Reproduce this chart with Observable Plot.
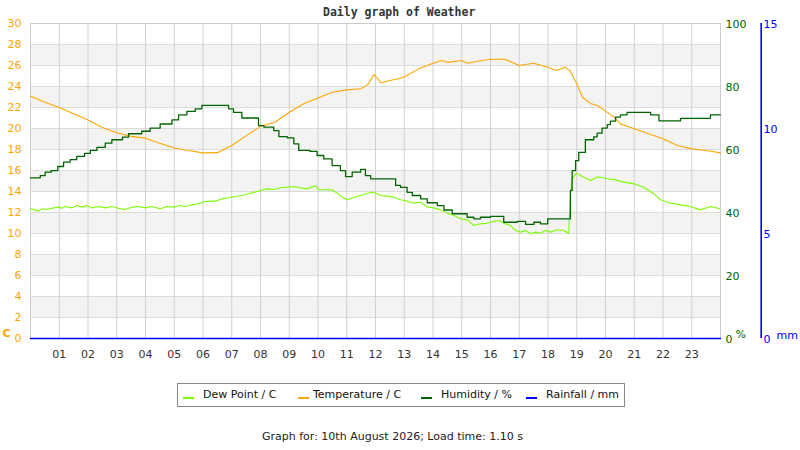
<!DOCTYPE html>
<html>
<head>
<meta charset="utf-8">
<script src="https://cdn.jsdelivr.net/npm/d3@7"></script>
<script src="https://cdn.jsdelivr.net/npm/@observablehq/plot@0.6"></script>
<style>
  body { margin: 0; background: #fff; }
  #wrap { position: relative; width: 800px; height: 450px; overflow: hidden; font-family: "DejaVu Sans", sans-serif; }
  #chart svg { display: block; }
  #title { position: absolute; left: 323px; top: 5px; font: bold 11.5px "DejaVu Sans Mono", monospace; color: #333; white-space: nowrap; }
  #legend { position: absolute; left: 177px; top: 383px; width: 448px; height: 24px; box-sizing: border-box; border: 1px solid #888; font-size: 11px; color: #111; }
  #legend .sw { position: absolute; top: 13px; width: 11px; height: 2px; }
  #legend .lb { position: absolute; top: 4px; white-space: nowrap; }
  #footer { position: absolute; left: 262px; top: 430px; font-size: 11px; color: #222; white-space: nowrap; }
</style>
</head>
<body>
<div id="wrap">
  <div id="chart"></div>
  <div id="title"></div>
  <div id="legend"></div>
  <div id="footer"></div>
</div>
<script>
const titleText = "Daily graph of Weather";
const footerText = "Graph for: 10th August 2026; Load time: 1.10 s";

const hourTicks = [1,2,3,4,5,6,7,8,9,10,11,12,13,14,15,16,17,18,19,20,21,22,23];
const hourLabels = ["01","02","03","04","05","06","07","08","09","10","11","12","13","14","15","16","17","18","19","20","21","22","23"];
const tempTicks = [0,2,4,6,8,10,12,14,16,18,20,22,24,26,28,30];
const bandStarts = [2,6,10,14,18,22,26];
const humTicks = [0,20,40,60,80,100];
const rainTicks = [0,5,10,15];

const seriesNames = ["Dew Point / C","Temperature / C","Humidity / %","Rainfall / mm"];
const seriesColors = ["#7CFC00","#FFA500","#006400","#0000FF"];

const tempHours = [
  0,0.5,1,1.5,2,2.5,3,3.5,4,4.5,
  5,5.5,6,6.5,7,7.5,8,8.5,9,9.5,
  10,10.5,11,11.5,11.75,11.95,12.2,12.5,12.8,13,
  13.5,14,14.3,14.5,15,15.2,15.5,16,16.5,17,
  17.5,18,18.3,18.6,18.78,19,19.2,19.5,19.72,20,
  20.3,20.52,21,21.5,22,22.5,23,23.5,24];
const tempValues = [
  23.1,22.5,22.0,21.4,20.8,20.1,19.6,19.25,19.08,18.6,
  18.15,17.9,17.68,17.7,18.38,19.3,20.2,20.6,21.55,22.35,
  22.9,23.46,23.68,23.78,24.25,25.14,24.35,24.57,24.73,24.9,
  25.68,26.22,26.48,26.3,26.48,26.22,26.38,26.6,26.6,26.0,
  26.22,25.84,25.52,25.84,25.46,24.25,22.98,22.35,22.19,21.65,
  21.08,20.44,19.97,19.49,19.02,18.38,18.06,17.9,17.68];

const dewHours = [
  0,0.16,0.28,0.39,0.57,0.74,0.97,1.09,1.21,1.44,
  1.61,1.79,1.96,2.13,2.37,2.6,2.83,3.06,3.29,3.52,
  3.76,3.99,4.22,4.51,4.74,4.97,5.21,5.38,5.61,5.84,
  5.96,6.02,6.42,6.66,6.89,7.12,7.35,7.58,7.81,8.0,
  8.23,8.46,8.7,8.93,9.16,9.39,9.62,9.91,10.03,10.32,
  10.49,10.67,10.84,11.01,11.25,11.48,11.71,11.94,12.17,12.41,
  12.64,12.87,13.1,13.33,13.57,13.8,14.03,14.26,14.49,14.73,
  14.96,15.19,15.42,15.65,15.88,16.11,16.32,16.46,16.7,16.87,
  17.04,17.22,17.39,17.57,17.74,17.91,18.09,18.32,18.55,18.72,
  18.78,18.84,18.99,19.19,19.48,19.71,19.88,20.06,20.35,20.64,
  20.99,21.33,21.68,21.91,22.26,22.61,22.96,23.3,23.65,23.98];
const dewValues = [
  12.35,12.25,12.13,12.35,12.29,12.41,12.51,12.41,12.57,12.44,
  12.67,12.51,12.67,12.44,12.57,12.44,12.57,12.41,12.29,12.51,
  12.57,12.44,12.57,12.35,12.57,12.51,12.67,12.57,12.73,12.83,
  12.92,13.05,13.08,13.3,13.4,13.52,13.62,13.78,13.94,14.1,
  14.25,14.19,14.35,14.41,14.48,14.35,14.25,14.57,14.16,14.16,
  14.16,13.84,13.46,13.21,13.46,13.62,13.84,13.94,13.62,13.56,
  13.46,13.21,13.08,12.89,12.98,12.51,12.44,12.25,11.94,11.71,
  11.4,11.3,10.76,10.92,10.98,11.17,11.24,10.98,10.76,10.29,
  10.13,10.29,9.97,10.13,10.03,10.29,10.13,10.35,10.29,10.03,
  13.78,15.21,15.75,15.43,15.05,15.37,15.33,15.21,15.11,14.89,
  14.73,14.41,13.78,13.21,12.89,12.73,12.57,12.25,12.57,12.35];

const humHours = [
  0,0.34,0.51,0.72,0.95,1.15,1.38,1.61,1.88,2.08,
  2.31,2.6,2.83,3.2,3.41,3.87,4.16,4.51,4.92,5.15,
  5.44,5.73,5.96,6.89,7.06,7.35,7.93,8.12,8.46,8.64,
  8.93,9.16,9.33,9.72,9.97,10.2,10.49,10.78,10.96,11.19,
  11.48,11.65,11.83,12.7,12.87,13.1,13.28,13.57,13.8,14.15,
  14.38,14.67,15.19,15.42,15.65,16.0,16.46,16.93,17.22,17.51,
  17.74,17.99,18.75,18.78,18.84,18.96,19.07,19.3,19.59,19.71,
  19.88,20.06,20.17,20.35,20.52,20.75,21.57,21.86,22.61,23.65,
  24];
const humValues = [
  51.0,51.7,52.8,53.3,54.6,56.0,56.8,57.8,58.8,59.7,
  60.7,62.0,63.1,63.9,65.0,65.8,66.8,68.1,69.4,71.0,
  72.1,72.9,74.0,72.9,71.8,70.0,67.6,67.1,66.0,64.1,
  63.7,61.8,59.7,59.4,58.1,57.0,54.9,53.3,51.4,52.8,
  53.7,51.7,50.7,48.6,48.0,46.4,45.4,44.3,43.1,42.2,
  40.8,39.6,38.5,38.0,38.5,38.8,36.9,37.2,36.2,36.9,
  36.4,38.0,38.0,47.0,53.3,56.5,59.1,63.1,64.0,65.2,
  66.8,67.9,69.0,70.3,71.0,71.8,71.0,69.1,69.9,71.0,
  71.0];

const rainHours = [0,6,12,18,24];
const rainValues = [0,0,0,0,0];

// scale factors mapping the right-hand axes onto the temperature axis (0-30)
const humFactor = 30 / 100;
const rainFactor = 30 / 15;

const temp = tempHours.map((h, i) => ({h, v: tempValues[i]}));
const dew = dewHours.map((h, i) => ({h, v: dewValues[i]}));
const hum = humHours.map((h, i) => ({h, v: humValues[i] * humFactor}));
const rain = rainHours.map((h, i) => ({h, v: rainValues[i] * rainFactor}));
const bands = bandStarts.map(s => ({y1: s, y2: s + 2}));
const hourData = hourTicks.map((h, i) => ({h, label: hourLabels[i]}));

const chart = Plot.plot({
  width: 800,
  height: 370,
  marginTop: 23,
  marginBottom: 32,
  marginLeft: 30,
  marginRight: 80,
  style: {fontFamily: "DejaVu Sans, sans-serif", fontSize: "11px", background: "white", overflow: "visible"},
  x: {domain: [0, 24], axis: null},
  y: {domain: [0, 30], axis: null},
  marks: [
    Plot.rect(bands, {x1: 0, x2: 24, y1: "y1", y2: "y2", fill: "#f3f3f3"}),
    Plot.ruleY(tempTicks, {stroke: "#dcdcdc", strokeWidth: 1}),
    Plot.ruleX(hourTicks, {stroke: "#d0d0d0", strokeWidth: 1}),
    Plot.frame({stroke: "#cccccc"}),
    Plot.line(dew, {x: "h", y: "v", stroke: seriesColors[0], strokeWidth: 1.1}),
    Plot.line(temp, {x: "h", y: "v", stroke: seriesColors[1], strokeWidth: 1.1}),
    Plot.line(hum, {x: "h", y: "v", stroke: seriesColors[2], strokeWidth: 1.3, curve: "step-after"}),
    Plot.line(rain, {x: "h", y: "v", stroke: seriesColors[3], strokeWidth: 1.5}),
    // left temperature axis
    Plot.text(tempTicks, {x: 0, y: d => d, dx: -9, textAnchor: "end", fill: "#FFA500", fontSize: 11}),
    Plot.text(["C"], {x: 0, y: 0, dx: -24, dy: -5, fill: "#FFA500", fontWeight: "bold", fontSize: 11}),
    // right humidity axis
    Plot.text(humTicks, {x: 24, y: d => d * humFactor, dx: 5, dy: 1, textAnchor: "start", fill: "#006400", fontSize: 11}),
    Plot.text(["%"], {x: 24, y: 0, dx: 15, dy: -4, textAnchor: "start", fill: "#006400", fontSize: 11}),
    // rainfall axis
    Plot.ruleX([24], {y1: 0, y2: 15 * rainFactor, dx: 40.7, stroke: "#0000FF", strokeWidth: 1.6}),
    Plot.text(rainTicks, {x: 24, y: d => d * rainFactor, dx: 43, dy: 1, textAnchor: "start", fill: "#0000FF", fontSize: 11}),
    Plot.text(["mm"], {x: 24, y: 0, dx: 56, dy: -3, textAnchor: "start", fill: "#0000FF", fontSize: 11}),
    // hour labels
    Plot.text(hourData, {x: "h", y: 0, dy: 15.5, text: "label", fill: "#333", fontSize: 11})
  ]
});
document.getElementById("chart").appendChild(chart);

document.getElementById("title").textContent = titleText;
document.getElementById("footer").textContent = footerText;

const legendOffsets = [[5, 25], [120, 135], [243, 263], [348, 368]];
const legend = document.getElementById("legend");
seriesNames.forEach((name, i) => {
  const sw = document.createElement("div");
  sw.className = "sw";
  sw.style.left = legendOffsets[i][0] + "px";
  sw.style.background = seriesColors[i];
  legend.appendChild(sw);
  const lb = document.createElement("div");
  lb.className = "lb";
  lb.style.left = legendOffsets[i][1] + "px";
  lb.textContent = name;
  legend.appendChild(lb);
});
</script>
</body>
</html>
